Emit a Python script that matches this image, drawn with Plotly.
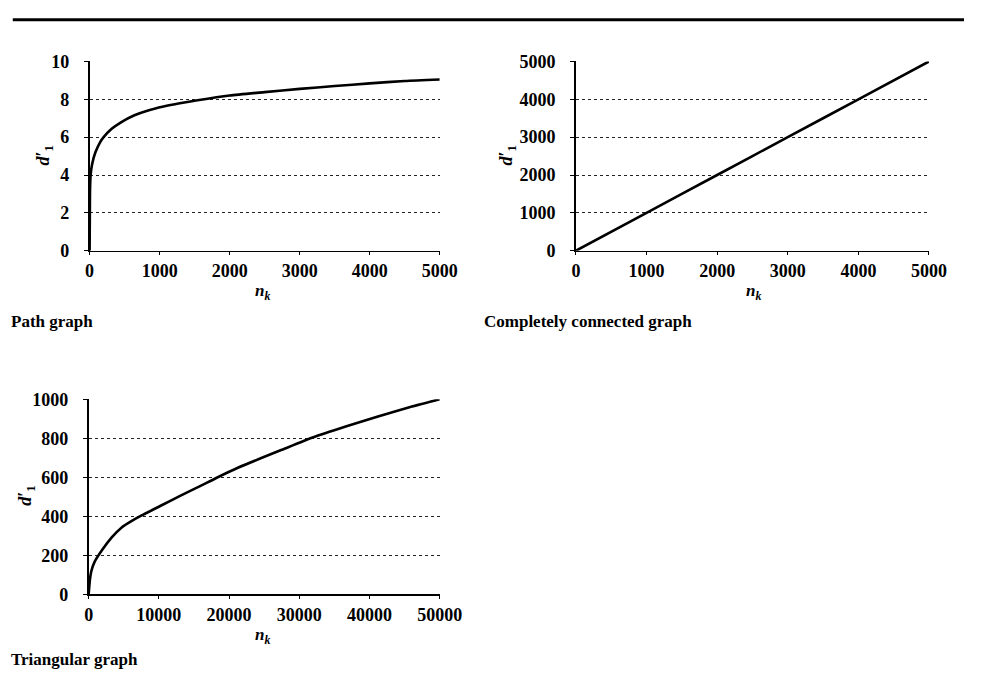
import plotly.graph_objects as go

W, H = 986, 682

# ---- data ----
path_n = [0, 5, 14, 37, 83, 153, 200, 315, 454, 640, 824, 1056, 1287, 1540, 2000, 2500, 3000, 3500, 4000, 4500, 5000]
path_d = [0, 3.0, 4.0, 4.6, 5.2, 5.75, 6.0, 6.44, 6.8, 7.16, 7.4, 7.62, 7.79, 7.95, 8.2, 8.38, 8.55, 8.7, 8.84, 8.97, 9.05]

cc_n = [0, 1000, 2000, 3000, 4000, 5000]
cc_d = [0, 1000, 2000, 3000, 4000, 5000]

tri_n = [0, 185, 370, 830, 1940, 3320, 4710, 6090, 7480, 10250, 13020, 15790, 18100, 21330,
         27800, 32000, 36600, 41200, 45800, 50000]
tri_d = [0, 75, 117, 165, 228, 293, 343, 375, 403, 454, 505, 553, 595, 650,
         745, 805, 860, 912, 960, 1000]

path_xticks = [0, 1000, 2000, 3000, 4000, 5000]
path_yticks = [0, 2, 4, 6, 8, 10]
cc_xticks = [0, 1000, 2000, 3000, 4000, 5000]
cc_yticks = [0, 1000, 2000, 3000, 4000, 5000]
tri_xticks = [0, 10000, 20000, 30000, 40000, 50000]
tri_yticks = [0, 200, 400, 600, 800, 1000]

captions = ["Path graph", "Completely connected graph", "Triangular graph"]

FONT = "Liberation Serif"
FS = 18


def px(x):
    return x / W


def py(y):
    return 1 - y / H


def b(t):
    return "<b>" + t + "</b>"


fig = go.Figure()
for xs, ys, xa, ya in [(path_n, path_d, "x", "y"), (cc_n, cc_d, "x2", "y2"), (tri_n, tri_d, "x3", "y3")]:
    fig.add_trace(go.Scatter(x=xs, y=ys, mode="lines",
                             line=dict(color="black", width=2.6, shape="spline", smoothing=0.6),
                             xaxis=xa, yaxis=ya, showlegend=False, cliponaxis=False,
                             hoverinfo="skip"))


def xax(domain, ticks, anchor):
    return dict(domain=domain, range=[ticks[0], ticks[-1]], tickvals=ticks,
                ticktext=[b(str(t)) for t in ticks], showgrid=False, zeroline=False,
                showline=True, linecolor="black", linewidth=1.6, ticks="outside",
                ticklen=3, tickcolor="black", anchor=anchor,
                tickfont=dict(family=FONT, size=FS, color="black"), ticklabelstandoff=0)


def yax(domain, ticks, anchor):
    return dict(domain=domain, range=[ticks[0], ticks[-1]], tickvals=ticks,
                ticktext=[b(str(t)) for t in ticks], showgrid=True, gridcolor="#222",
                griddash="dot", gridwidth=1, zeroline=False,
                showline=True, linecolor="black", linewidth=1.8, ticks="outside",
                ticklen=4, tickcolor="black", anchor=anchor,
                tickfont=dict(family=FONT, size=FS, color="black"), ticklabelstandoff=11)


top_y = [py(248), py(53)]
bot_y = [py(602), py(401)]

fig.update_layout(
    width=W, height=H,
    margin=dict(l=0, r=0, t=0, b=0),
    paper_bgcolor="white", plot_bgcolor="white",
    xaxis=xax([px(87), px(447)], path_xticks, "y"),
    yaxis=yax(top_y, path_yticks, "x"),
    xaxis2=xax([px(587), px(950)], cc_xticks, "y2"),
    yaxis2=yax(top_y, cc_yticks, "x2"),
    xaxis3=xax([px(86), px(447)], tri_xticks, "y3"),
    yaxis3=yax(bot_y, tri_yticks, "x3"),
    font=dict(family=FONT, color="black"),
    hovermode=False,
)

annots = []
ylab = "<b><i>d</i>′<sub>1</sub></b>"
xlab = "<b><i>n</i><sub><i>k</i></sub></b>"
for (x, y) in [(41, 150), (517, 150), (22, 500)]:
    annots.append(dict(x=px(x), y=py(y), xref="paper", yref="paper", text=ylab, showarrow=False,
                       textangle=-90, font=dict(family=FONT, size=FS, color="black"),
                       xanchor="center", yanchor="middle"))
for (x, y) in [(265, 291), (770, 291), (265, 645)]:
    annots.append(dict(x=px(x), y=py(y), xref="paper", yref="paper", text=xlab, showarrow=False,
                       font=dict(family=FONT, size=FS - 1, color="black"),
                       xanchor="center", yanchor="middle"))
for (x, y), t in zip([(4, 321), (490, 321), (4, 669)], captions):
    annots.append(dict(x=px(x), y=py(y), xref="paper", yref="paper", text=b(t), showarrow=False,
                       font=dict(family=FONT, size=FS - 1, color="black"),
                       xanchor="left", yanchor="middle"))
fig.update_layout(annotations=annots)

fig.add_shape(type="line", xref="paper", yref="paper", x0=px(8), x1=px(986), y0=py(10), y1=py(10),
              line=dict(color="black", width=3))

fig.write_html("out.html", config={"displayModeBar": False, "staticPlot": True},
               post_script="document.body.style.margin='0';document.body.style.overflow='hidden';")
